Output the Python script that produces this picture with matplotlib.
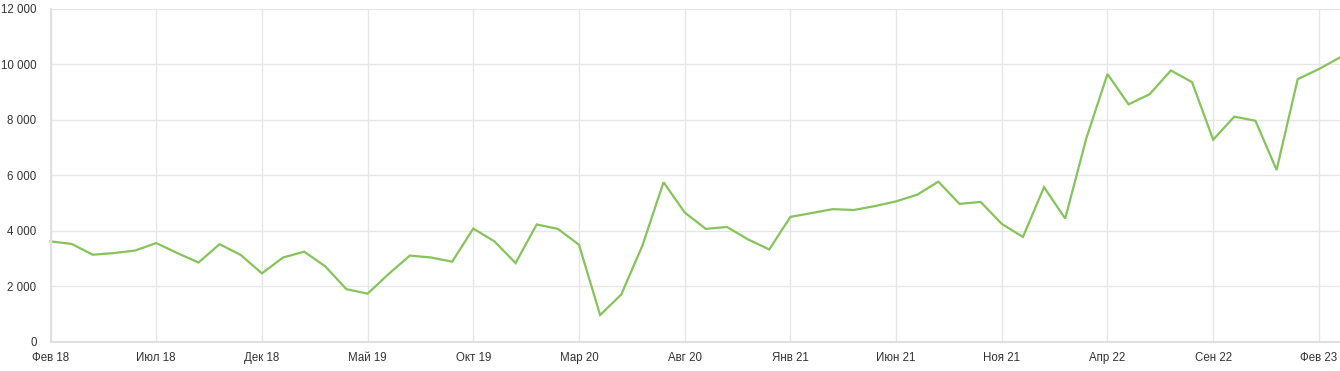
import matplotlib.pyplot as plt
from matplotlib.ticker import FuncFormatter

plt.rcParams['font.family'] = ['Liberation Sans', 'DejaVu Sans']

# месячные значения, фев 2018 - мар 2023
months = ['Янв', 'Фев', 'Мар', 'Апр', 'Май', 'Июн',
          'Июл', 'Авг', 'Сен', 'Окт', 'Ноя', 'Дек']
values = [3620, 3530, 3140, 3200, 3290, 3560, 3200, 2860, 3520, 3130,
          2470, 3040, 3250, 2720, 1900, 1740, 2450, 3110, 3040, 2890,
          4080, 3620, 2840, 4230, 4070, 3500, 970, 1710, 3470, 5750,
          4660, 4070, 4140, 3690, 3330, 4500, 4640, 4780, 4750, 4890,
          5060, 5300, 5770, 4970, 5040, 4250, 3780, 5570, 4440, 7330,
          9640, 8550, 8920, 9770, 9350, 7280, 8110, 7960, 6190, 9460,
          9820, 10240]
y_ticks = [0, 2000, 4000, 6000, 8000, 10000, 12000]

labels = []
for i in range(len(values)):
    m = (1 + i) % 12          # старт с февраля
    yr = 18 + (1 + i) // 12
    labels.append(f'{months[m]} {yr}')
x = list(range(len(values)))

fig = plt.figure(figsize=(13.4, 3.71), dpi=100)
ax = fig.add_axes([50.5/1340, 29/371, 1 - 50.5/1340, (342 - 8.5)/371])

ax.plot(x, values, color='#86c35a', lw=1.6, solid_joinstyle='miter', clip_on=False)

ax.set_xlim(0, len(values) - 1)
ax.set_ylim(0, 12000)
ax.set_xticks(x[::5])
ax.set_xticklabels(labels[::5])
ax.set_yticks(y_ticks)
ax.yaxis.set_major_formatter(FuncFormatter(lambda v, p: f'{int(v):,}'.replace(',', ' ')))

ax.grid(True, color='#e6e6e6', lw=1)
ax.set_axisbelow(True)
for s in ['top', 'right']:
    ax.spines[s].set_visible(False)
for s in ['left', 'bottom']:
    ax.spines[s].set_color('#e0e0e0')
    ax.spines[s].set_linewidth(1.5)
ax.tick_params(length=0, labelsize=8.3, colors='#333333')
ax.tick_params(axis='y', pad=10)
ax.tick_params(axis='x', pad=7)

fig.savefig('out.png', dpi=100)
